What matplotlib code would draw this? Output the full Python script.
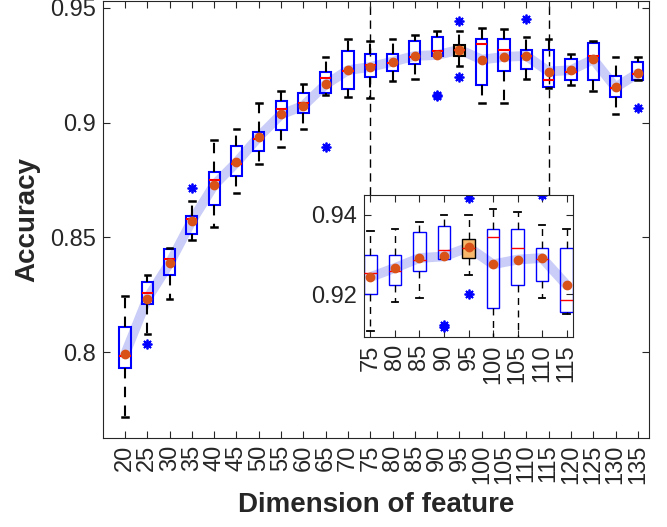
import matplotlib
matplotlib.use("Agg")
import matplotlib.pyplot as plt
import numpy as np

plt.rcParams['font.family'] = ['Liberation Sans', 'DejaVu Sans']

dims = [20, 25, 30, 35, 40, 45, 50, 55, 60, 65, 70, 75,
        80, 85, 90, 95, 100, 105, 110, 115, 120, 125, 130, 135]
whislo = [0.7716, 0.8078, 0.8231, 0.8489, 0.8547, 0.8692, 0.8819, 0.8895,
          0.8971, 0.9121, 0.9112, 0.9106, 0.9181, 0.9189, 0.9289, 0.9249,
          0.9087, 0.9087, 0.9189, 0.9150, 0.9163, 0.9138, 0.9037, 0.9187]
q1 = [0.7933, 0.8212, 0.8337, 0.8515, 0.8642, 0.8768, 0.8877, 0.8969,
      0.9043, 0.9128, 0.9145, 0.9199, 0.9224, 0.9257, 0.9289, 0.9290,
      0.9165, 0.9224, 0.9232, 0.9156, 0.9187, 0.9187, 0.9112, 0.9187]
med = [0.7982, 0.8257, 0.8405, 0.8579, 0.8750, 0.8819, 0.8928, 0.9058,
       0.9087, 0.9196, 0.9226, 0.9252, 0.9258, 0.9286, 0.9311, 0.9316,
       0.9345, 0.9315, 0.9289, 0.9186, 0.9219, 0.9292, 0.9151, 0.9213]
q3 = [0.8110, 0.8304, 0.8449, 0.8592, 0.8784, 0.8900, 0.8959, 0.9096,
      0.9128, 0.9222, 0.9312, 0.9298, 0.9298, 0.9357, 0.9373, 0.9340,
      0.9364, 0.9365, 0.9315, 0.9315, 0.9279, 0.9348, 0.9203, 0.9263]
whishi = [0.8247, 0.8338, 0.8453, 0.8658, 0.8925, 0.8971, 0.9087, 0.9139,
          0.9170, 0.9287, 0.9364, 0.9358, 0.9365, 0.9383, 0.9399, 0.9400,
          0.9414, 0.9407, 0.9375, 0.9365, 0.9298, 0.9356, 0.9287, 0.9287]
means = [0.7991, 0.8234, 0.8388, 0.8573, 0.8729, 0.8827, 0.8939, 0.9036,
         0.9074, 0.9167, 0.9229, 0.9243, 0.9266, 0.9291, 0.9295, 0.9318,
         0.9275, 0.9287, 0.9291, 0.9223, 0.9229, 0.9276, 0.9154, 0.9215]
outliers = {25: [0.8035], 35: [0.8717], 65: [0.8894], 90: [0.9118, 0.9122],
            95: [0.9442, 0.9199], 110: [0.9450], 135: [0.9063]}
highlight_dim = 95
zoom_dims = [75, 80, 85, 90, 95, 100, 105, 110, 115]

TXT = '#262626'

def make_stats(sel):
    stats = []
    for i, d in enumerate(dims):
        if d not in sel:
            continue
        stats.append(dict(whislo=whislo[i], q1=q1[i], med=med[i], q3=q3[i],
                          whishi=whishi[i], mean=means[i],
                          fliers=outliers.get(d, []), label=str(d)))
    return stats

def draw(ax, sel, lw):
    stats = make_stats(sel)
    pos = np.arange(1, len(stats) + 1)
    mvals = [s['mean'] for s in stats]
    ax.plot(pos, mvals, color='#c9cdf8', lw=7, solid_capstyle='round',
            solid_joinstyle='round', zorder=1)
    bp = ax.bxp(stats, positions=pos, widths=0.5, showmeans=True,
                patch_artist=True, manage_ticks=False,
                boxprops=dict(facecolor='none', edgecolor='blue', lw=lw),
                medianprops=dict(color='red', lw=lw),
                whiskerprops=dict(color='black', lw=lw, linestyle=(0, (5, 4))),
                capprops=dict(color='black', lw=lw + 0.3),
                capwidths=0.25,
                meanprops=dict(marker='o', markerfacecolor='#D95319',
                               markeredgecolor='#D95319', markersize=6),
                flierprops=dict(marker=(8, 2, 0), markeredgecolor='blue',
                                markerfacecolor='blue', markersize=7,
                                markeredgewidth=1.3))
    for s, b in zip(stats, bp['boxes']):
        b.set_zorder(2)
        if s['label'] == str(highlight_dim):
            b.set_facecolor((0.97, 0.72, 0.42))
            b.set_edgecolor('black')
    for art in bp['medians'] + bp['means']:
        art.set_zorder(3)
    ax.set_xticks(pos)
    ax.set_xticklabels([s['label'] for s in stats], rotation=90)
    ax.tick_params(direction='in', top=True, right=True, length=5,
                   width=0.8, labelsize=17, colors=TXT, pad=5)
    for sp in ax.spines.values():
        sp.set_color(TXT)
        sp.set_linewidth(0.8)
    return pos

fig = plt.figure(figsize=(6.67, 5.27), dpi=100)
ax = fig.add_axes([0.154, 0.1695, 0.819, 0.8285])
draw(ax, dims, 1.5)
ax.set_xlim(0.0, 24.5)
ax.set_ylim(0.7628, 0.9530)
ax.set_yticks([0.8, 0.85, 0.9, 0.95])
ax.set_yticklabels(['0.8', '0.85', '0.9', '0.95'])
ax.set_ylabel('Accuracy', fontsize=20, fontweight='bold', color=TXT, labelpad=7)
ax.set_xlabel('Dimension of feature', fontsize=20, fontweight='bold', color=TXT, labelpad=6)

# dashed guide lines to the inset
i75 = dims.index(zoom_dims[0]) + 1
i115 = dims.index(zoom_dims[-1]) + 1
ax.vlines([i75, i115], 0.8685, 0.9530, colors='black', linestyles=(0, (6, 4)), lw=1, zorder=0.5)

axi = fig.add_axes([0.5462, 0.360, 0.3124, 0.270])
draw(axi, zoom_dims, 1.0)
axi.set_xlim(0.75, 9.25)
axi.set_ylim(0.9091, 0.9450)
axi.set_yticks([0.92, 0.94])
axi.set_yticklabels(['0.92', '0.94'])

fig.savefig('out.png', dpi=100)
